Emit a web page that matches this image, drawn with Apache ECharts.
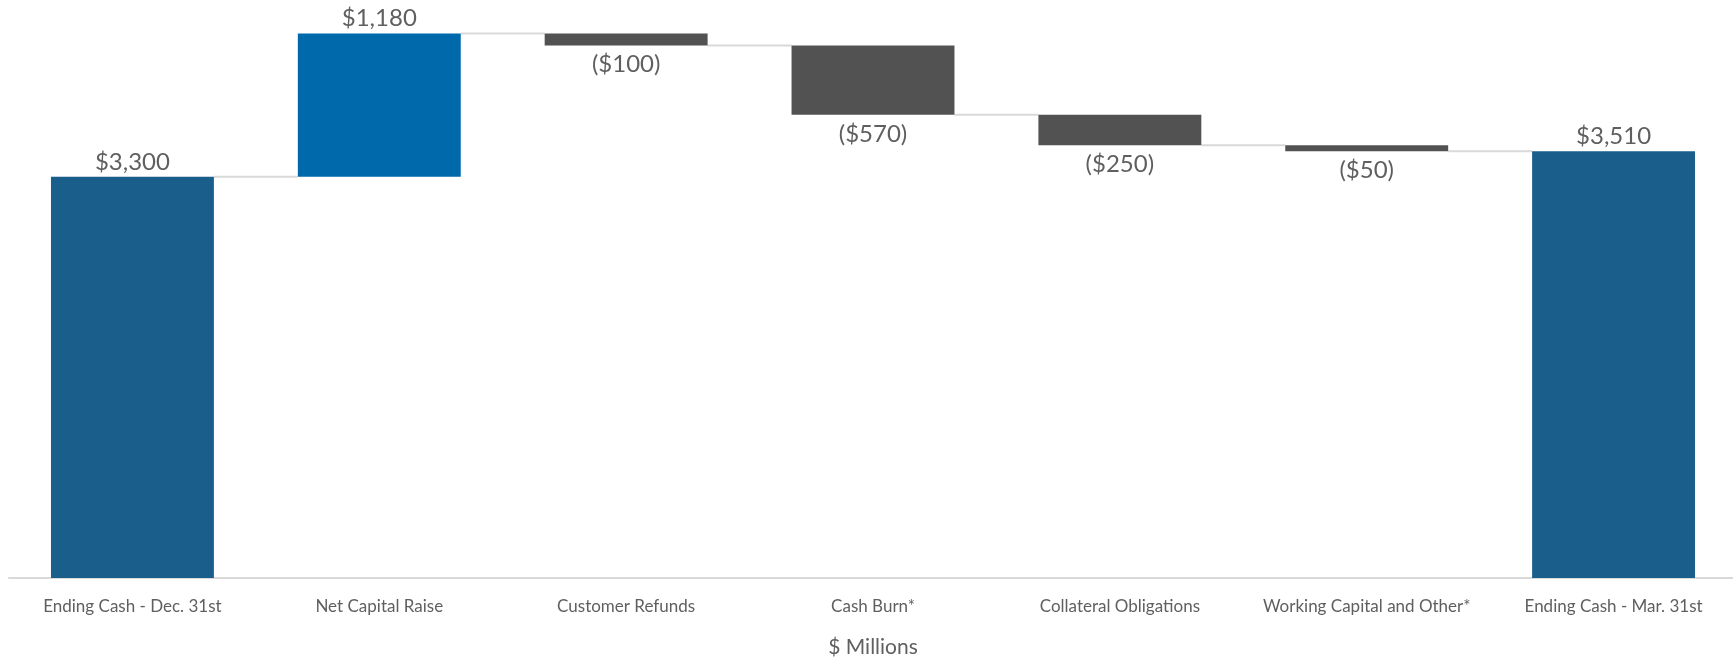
<!DOCTYPE html>
<html>
<head>
<meta charset="utf-8">
<script src="https://cdn.jsdelivr.net/npm/echarts@6/dist/echarts.min.js"></script>
<style>
  html, body { margin: 0; padding: 0; background: #fff; }
  #chart { width: 1733px; height: 659px; }
</style>
</head>
<body>
<div id="chart"></div>
<script>
// waterfall data ($ millions)
var categories = ['Ending Cash - Dec. 31st', 'Net Capital Raise', 'Customer Refunds', 'Cash Burn*',
  'Collateral Obligations', 'Working Capital and Other*', 'Ending Cash - Mar. 31st'];
var values = [3300, 1180, -100, -570, -250, -50, 3510];
var isTotal = [true, false, false, false, false, false, true];

var totalColor = '#1a5e8b';
var upColor = '#0069ac';
var downColor = '#525252';
var textColor = '#5f5f5f';
var fontFamily = 'Lato, "Noto Sans", sans-serif';

function money(v) {
  var s = '$' + Math.abs(v).toLocaleString('en-US');
  return v < 0 ? '(' + s + ')' : s;
}

// build base / visible parts and running levels
var baseData = [], deltaData = [], levels = [];
var running = 0;
values.forEach(function (v, i) {
  if (isTotal[i]) {
    baseData.push(0);
    running = v;
    deltaData.push({
      value: v, itemStyle: { color: totalColor },
      label: { position: 'top', distance: 3 }
    });
  } else if (v >= 0) {
    baseData.push(running);
    running += v;
    deltaData.push({
      value: v, itemStyle: { color: upColor },
      label: { position: 'top', distance: 3 }
    });
  } else {
    running += v;
    baseData.push(running);
    deltaData.push({
      value: -v, itemStyle: { color: downColor },
      label: { position: 'bottom', distance: 7 }
    });
  }
  levels.push(running);
});

var connectorData = [];
for (var i = 0; i < values.length - 1; i++) {
  connectorData.push([i, levels[i]]);
}

var gapRatio = 0.34;

var chart = echarts.init(document.getElementById('chart'));
var option = {
  animation: false,
  grid: { left: 9, right: -4, top: 31, bottom: 81, outerBoundsMode: 'none', containLabel: false },
  xAxis: {
    type: 'category',
    data: categories,
    axisLine: { lineStyle: { color: '#d9d9d9', width: 2 } },
    axisTick: { show: false },
    axisLabel: { color: textColor, fontSize: 17, fontFamily: fontFamily, margin: 20, interval: 0 },
    name: '$ Millions',
    nameLocation: 'middle',
    nameGap: 59,
    nameTextStyle: { color: textColor, fontSize: 21, fontFamily: fontFamily }
  },
  yAxis: {
    type: 'value',
    min: 0,
    max: 4500,
    show: false,
    splitLine: { show: false }
  },
  series: [
    {
      name: 'base',
      type: 'bar',
      stack: 'w',
      barCategoryGap: '34%',
      itemStyle: { color: 'transparent' },
      silent: true,
      data: baseData
    },
    {
      name: 'delta',
      type: 'bar',
      stack: 'w',
      barCategoryGap: '34%',
      label: {
        show: true,
        color: textColor,
        fontSize: 24,
        fontFamily: fontFamily,
        formatter: function (p) { return money(values[p.dataIndex]); }
      },
      data: deltaData
    },
    {
      name: 'connector',
      type: 'custom',
      silent: true,
      z: 1,
      renderItem: function (params, api) {
        var a = api.coord([api.value(0), api.value(1)]);
        var b = api.coord([api.value(0) + 1, api.value(1)]);
        var half = api.size([1, 0])[0] * (1 - gapRatio) / 2;
        return {
          type: 'line',
          shape: { x1: a[0] + half, y1: a[1], x2: b[0] - half, y2: b[1] },
          style: { stroke: '#d9d9d9', lineWidth: 2 }
        };
      },
      data: connectorData
    }
  ]
};
chart.setOption(option);
</script>
</body>
</html>
